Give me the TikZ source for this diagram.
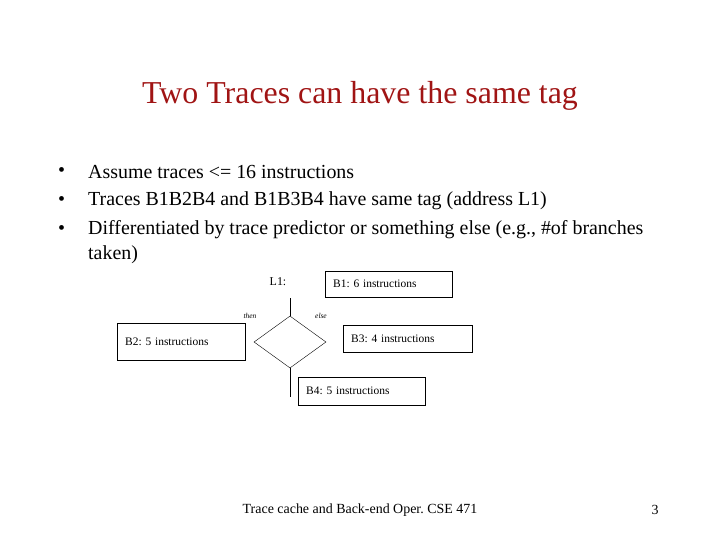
\documentclass[tikz,border=0pt]{standalone}
\usepackage{fontspec}
\setmainfont{Liberation Serif}
\usepackage{tikz}
\usetikzlibrary{shapes.geometric}
\definecolor{titlered}{RGB}{160,20,20}
\frenchspacing

\begin{document}
\begin{tikzpicture}[x=1bp, y=-1bp,
  headline/.style={text=titlered, font=\fontsize{32}{38}\selectfont},
  bulletline/.style={anchor=west, inner sep=0pt, font=\fontsize{20}{24}\selectfont},
  blockbox/.style={draw, thin, anchor=west, inner xsep=8bp, inner ysep=0pt,
    text width=#1, minimum height=26bp, align=left, font=\fontsize{11.5}{14}\selectfont},
  smalltext/.style={inner sep=0pt, font=\fontsize{12}{14}\selectfont},
  branchtext/.style={inner sep=0pt, font=\fontsize{7.5}{9}\selectfont\itshape},
  footertext/.style={inner sep=0pt, font=\fontsize{14}{16}\selectfont}]
  \useasboundingbox (0,0) rectangle (720,540);
  % title and bullets
  \node[headline] (title) at (360,96) {Two Traces can have the same tag};
  \node[bulletline] (dot1) at (58,172) {\textbullet};
  \node[bulletline] (dot2) at (58,201) {\textbullet};
  \node[bulletline] (dot3) at (58,230) {\textbullet};
  \node[bulletline] (item1) at (88,172) {Assume traces <= 16 instructions};
  \node[bulletline] (item2) at (88,201) {Traces B1B2B4 and B1B3B4 have same tag (address L1)};
  \node[bulletline] (item3) at (88,230) {Differentiated by trace predictor or something else (e.g., \#of branches};
  \node[bulletline] (item3b) at (88,255) {taken)};
  % flow graph
  \node[smalltext] (lone) at (278,282) {L1:};
  \node[blockbox=111bp] (bone) at (325,284) {B1: 6 instructions};
  \node[blockbox=112bp, minimum height=37bp] (btwo) at (117,341.5) {B2: 5 instructions};
  \node[blockbox=113bp, minimum height=27bp] (bthree) at (343,338.5) {B3: 4 instructions};
  \node[blockbox=111bp, minimum height=28bp] (bfour) at (298,391) {B4: 5 instructions};
  \node[diamond, draw, thin, minimum width=72bp, minimum height=52bp, inner sep=0pt] (test) at (290,342) {};
  \coordinate (entry) at (290,298);
  \coordinate (exit) at (290,397);
  \draw[thin] (entry) -- (test.north);
  \draw[thin] (test.south) -- (exit);
  \node[branchtext] (thenlab) at (250,316) {then};
  \node[branchtext] (elselab) at (321,316) {else};
  % footer
  \node[footertext] (footer) at (360,510) {Trace cache and Back-end Oper. CSE 471};
  \node[footertext] (pagenum) at (655,510) {3};
\end{tikzpicture}
\end{document}
